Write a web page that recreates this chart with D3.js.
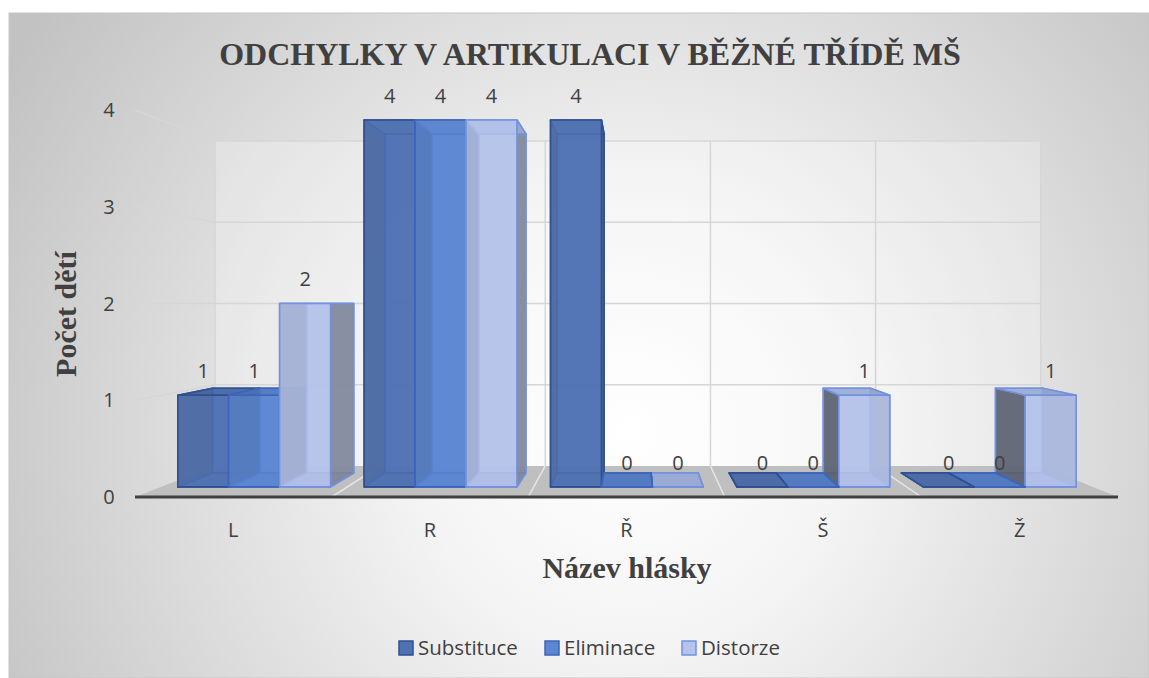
<!DOCTYPE html>
<html>
<head>
<meta charset="utf-8">
<script src="https://cdn.jsdelivr.net/npm/d3@7"></script>
<style>
  body { margin: 0; background: #ffffff; }
  text { fill: #404040; }
</style>
</head>
<body>
<script>
var categories = ["L", "R", "Ř", "Š", "Ž"];
var seriesNames = ["Substituce", "Eliminace", "Distorze"];
var substituce = [1, 4, 4, 0, 0];
var eliminace  = [1, 4, 0, 0, 0];
var distorze   = [2, 4, 0, 1, 1];
var yTicks = [0, 1, 2, 3, 4];

var seriesValues = [substituce, eliminace, distorze];
var baseColors   = ["#4f72b3", "#5a86d2", "#b4c3ea"];
var edgeColors   = ["#2f5090", "#3b66bd", "#7391de"];

var width = 1149, height = 678;
var labelFont = "'Open Sans', sans-serif";
var titleFont = "'Liberation Serif', 'Times New Roman', serif";

var svg = d3.select("body").append("svg")
  .attr("width", width)
  .attr("height", height);

// background
var defs = svg.append("defs");
var grad = defs.append("radialGradient")
  .attr("id", "bg")
  .attr("gradientUnits", "userSpaceOnUse")
  .attr("cx", 630).attr("cy", 430).attr("r", 720);
grad.append("stop").attr("offset", "0").attr("stop-color", "#ffffff");
grad.append("stop").attr("offset", "0.3").attr("stop-color", "#f4f4f4");
grad.append("stop").attr("offset", "1").attr("stop-color", "#c2c2c2");

svg.append("rect")
  .attr("x", 9).attr("y", 13)
  .attr("width", width - 9).attr("height", height - 13)
  .attr("fill", "url(#bg)")
  .attr("stroke", "#c6c6c6");

// 3D frame: front plane coords + perspective toward (cx, cy)
var cx = 635, cy = 303, k = 0.1905;
var frontLeft = 135, frontRight = 1118;
var zFront = 0.288, zBack = 0.743;

var yScale = d3.scaleLinear().domain([0, 4]).range([497, 110]);
var x0 = d3.scaleBand().domain(categories).range([frontLeft, frontRight]).padding(0);
var x1 = d3.scaleBand().domain(seriesNames).range([0, x0.bandwidth()])
  .paddingInner(0).paddingOuter(0.33);

function P(X, v, z) {
  var s = 1 / (1 + k * z);
  return [cx + (X - cx) * s, cy + (yScale(v) - cy) * s];
}
function poly(pts) {
  return "M" + pts.map(function (p) { return p[0].toFixed(2) + "," + p[1].toFixed(2); }).join("L") + "Z";
}

var g = svg.append("g");

// back wall
g.append("path")
  .attr("d", poly([P(frontLeft, 0, 1), P(frontRight, 0, 1), P(frontRight, 4, 1), P(frontLeft, 4, 1)]))
  .attr("fill", "#ffffff").attr("fill-opacity", 0.25)
  .attr("stroke", "none");

// gridlines: side wall + back wall
yTicks.forEach(function (t) {
  if (t === 0) return;
  g.append("path")
    .attr("d", "M" + P(frontLeft, t, 0) + "L" + P(frontLeft, t, 1) + "L" + P(frontRight, t, 1))
    .attr("fill", "none").attr("stroke", "#d6d6d6").attr("stroke-width", 1.5);
});
var bounds = categories.map(function (c) { return x0(c); }).concat([frontRight]);
bounds.forEach(function (X) {
  g.append("path")
    .attr("d", "M" + P(X, 0, 1) + "L" + P(X, 4, 1))
    .attr("fill", "none").attr("stroke", "#d6d6d6").attr("stroke-width", 1.5);
});

// floor
g.append("path")
  .attr("d", poly([P(frontLeft, 0, 0), P(frontRight, 0, 0), P(frontRight, 0, 1), P(frontLeft, 0, 1)]))
  .attr("fill", "#bfbfbf");
bounds.forEach(function (X, i) {
  if (i === 0 || i === bounds.length - 1) return;
  g.append("path")
    .attr("d", "M" + P(X, 0, 0) + "L" + P(X, 0, 1))
    .attr("stroke", "#e6e6e6").attr("stroke-width", 1.5);
});
g.append("line")
  .attr("x1", frontLeft).attr("x2", frontRight)
  .attr("y1", yScale(0)).attr("y2", yScale(0))
  .attr("stroke", "#404040").attr("stroke-width", 3);

// bars
var bars = [];
categories.forEach(function (c, ci) {
  seriesNames.forEach(function (s, si) {
    var X0 = x0(c) + x1(s);
    bars.push({ c: c, si: si, v: seriesValues[si][ci], X0: X0, X1: X0 + x1.bandwidth() });
  });
});
bars.sort(function (a, b) {
  return Math.abs((b.X0 + b.X1) / 2 - cx) - Math.abs((a.X0 + a.X1) / 2 - cx);
});

bars.forEach(function (d) {
  var base = baseColors[d.si], edge = edgeColors[d.si];
  var rightCol = d3.interpolateRgb(base, "#555555")(0.6);
  var leftCol = d3.interpolateRgb(base, "#333333")(0.75);
  var topCol = d3.interpolateRgb(base, "#2a3f70")(0.2);
  var v = d.v, X0 = d.X0, X1 = d.X1;
  var faces = [];
  faces.push({ p: [P(X0, 0, zBack), P(X1, 0, zBack), P(X1, v, zBack), P(X0, v, zBack)], f: base });
  faces.push({ p: [P(X0, 0, zFront), P(X1, 0, zFront), P(X1, 0, zBack), P(X0, 0, zBack)], f: topCol });
  var left = { p: [P(X0, 0, zFront), P(X0, 0, zBack), P(X0, v, zBack), P(X0, v, zFront)], f: leftCol };
  var right = { p: [P(X1, 0, zFront), P(X1, 0, zBack), P(X1, v, zBack), P(X1, v, zFront)], f: rightCol };
  if ((X0 + X1) / 2 < cx) { faces.push(left, right); } else { faces.push(right, left); }
  faces.push({ p: [P(X0, v, zFront), P(X1, v, zFront), P(X1, v, zBack), P(X0, v, zBack)], f: topCol });
  faces.push({ p: [P(X0, 0, zFront), P(X1, 0, zFront), P(X1, v, zFront), P(X0, v, zFront)], f: base });
  faces.forEach(function (f) {
    g.append("path")
      .attr("d", poly(f.p))
      .attr("fill", f.f).attr("fill-opacity", 0.82)
      .attr("stroke", edge).attr("stroke-width", 1.6).attr("stroke-linejoin", "round");
  });
});

// data labels
bars.forEach(function (d) {
  var top = P((d.X0 + d.X1) / 2, d.v, zFront);
  g.append("text")
    .attr("x", top[0]).attr("y", top[1] - 17)
    .attr("text-anchor", "middle")
    .style("font-family", labelFont)
    .style("font-size", "20px")
    .text(d.v);
});

// y tick labels
yTicks.forEach(function (t) {
  svg.append("text")
    .attr("x", 109).attr("y", yScale(t) + 7)
    .attr("text-anchor", "middle")
    .style("font-family", labelFont)
    .style("font-size", "20px")
    .text(t);
});

// category labels
categories.forEach(function (c) {
  svg.append("text")
    .attr("x", x0(c) + x0.bandwidth() / 2).attr("y", 537)
    .attr("text-anchor", "middle")
    .style("font-family", labelFont)
    .style("font-size", "20px")
    .text(c);
});

// titles
svg.append("text")
  .attr("x", 590).attr("y", 65)
  .attr("text-anchor", "middle")
  .style("font-family", titleFont)
  .style("font-weight", "bold").style("font-size", "32px")
  .text("ODCHYLKY V ARTIKULACI V BĚŽNÉ TŘÍDĚ MŠ");

svg.append("text")
  .attr("transform", "translate(76,314) rotate(-90)")
  .attr("text-anchor", "middle")
  .style("font-family", titleFont)
  .style("font-weight", "bold").style("font-size", "30px")
  .text("Počet dětí");

svg.append("text")
  .attr("x", 627).attr("y", 578)
  .attr("text-anchor", "middle")
  .style("font-family", titleFont)
  .style("font-weight", "bold").style("font-size", "30px")
  .text("Název hlásky");

// legend
var legendX = [399, 545, 682];
seriesNames.forEach(function (s, i) {
  svg.append("rect")
    .attr("x", legendX[i]).attr("y", 641)
    .attr("width", 14).attr("height", 14)
    .attr("fill", baseColors[i]).attr("stroke", edgeColors[i]).attr("stroke-width", 1.5);
  svg.append("text")
    .attr("x", legendX[i] + 19).attr("y", 655)
    .style("font-family", labelFont)
    .style("font-size", "20.5px")
    .text(s);
});
</script>
</body>
</html>
